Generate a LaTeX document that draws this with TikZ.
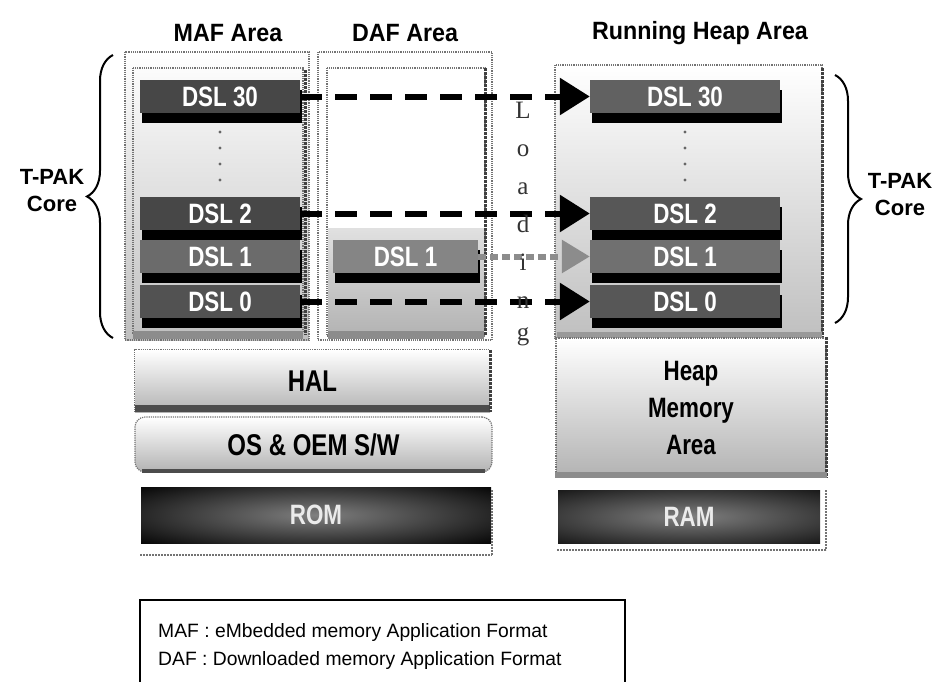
\documentclass[tikz,border=0pt]{standalone}
\usepackage{fontspec}
\setmainfont{Liberation Sans}
\newfontfamily\narf[FakeStretch=0.8]{Liberation Sans}
\newfontfamily\ttlf[FakeStretch=0.93]{Liberation Sans}
\newfontfamily\serf{Liberation Serif}
\usetikzlibrary{arrows.meta,shadows,decorations.pathreplacing,calc}
\begin{document}
\begin{tikzpicture}[x=1pt,y=-1pt,
  title/.style={font=\ttlf\bfseries\fontsize{25}{28}\selectfont, inner sep=0pt},
  dsl/.style={fill=#1, minimum width=160pt, minimum height=33pt, inner sep=0pt, text=white,
    font=\narf\bfseries\fontsize{28}{30}\selectfont,
    drop shadow={shadow xshift=2pt, shadow yshift=-10pt, fill=black, opacity=1}},
  dsl/.default=black!65,
  layer/.style={minimum height=#1, inner sep=0pt, top color=white, bottom color=black!30,
    font=\narf\bfseries\fontsize{30}{32}\selectfont},
  darkbox/.style={fill=black, inner sep=0pt, text=black!8,
    font=\narf\bfseries\fontsize{28}{30}\selectfont,
    path picture={\shade[inner color=black!50, outer color=black]
      (path picture bounding box.center) ellipse [x radius=250pt, y radius=44pt];}},
  tpak/.style={align=center, inner sep=0pt, font=\bfseries\fontsize{22}{27}\selectfont},
  loadch/.style={anchor=base, inner sep=0pt, text=black!80, font=\serf\fontsize{25}{25}\selectfont},
  loadarrow/.style={line width=6pt, dash pattern=on 22pt off 13pt, -{Triangle[length=30pt,width=36pt]}},
  grayarrow/.style={line width=6pt, black!45, dash pattern=on 8pt off 4pt, -{Triangle[length=28pt,width=32pt]}},
  areaedge/.style={black!55, densely dotted, line width=1.2pt},
  thickedge/.style={black!75, densely dotted, line width=3pt},
  brace/.style={line width=2pt, decorate, decoration={brace, amplitude=26pt}},
  legend/.style={anchor=west, inner sep=0pt, font=\fontsize{19.3}{22}\selectfont}
]
\useasboundingbox (0,0) rectangle (936,681);
\clip (0,0) rectangle (936,681);

% titles
\node[title] (tmaf) at (228,33) {MAF Area};
\node[title] (tdaf) at (405,33) {DAF Area};
\node[title] (trun) at (700,33) {Running Heap Area};

% MAF area
\shade[top color=white, bottom color=black!25] (125,52) rectangle (309,340);
\draw[areaedge] (125,52) rectangle (309,340);
\draw[areaedge] (133,68) rectangle (303,333);
\fill[black!45] (133,331) rectangle (303,339);
\draw[thickedge] (305,70) -- (305,335);
\foreach \yy in {132,148,164,180} \fill[black!60] (220,\yy) circle (1.6pt);

% DAF area
\draw[areaedge] (318,52) rectangle (492,340);
\draw[areaedge] (327,68) rectangle (485,336);
\shade[top color=black!12, bottom color=black!30] (328,228) rectangle (484,336);
\fill[black!45] (328,331) rectangle (484,339);
\draw[thickedge] (485,68) -- (485,336);

% Running heap area
\shade[top color=white, bottom color=black!25] (555,65) rectangle (822,338);
\draw[areaedge] (555,65) rectangle (822,338);
\draw[thickedge] (822,68) -- (822,338);
\fill[black!40] (557,332) rectangle (822,339);
\foreach \yy in {132,148,164,180} \fill[black!60] (685,\yy) circle (1.6pt);

% DSL boxes MAF
\node[dsl=black!72] (m30) at (220,96.5) {DSL 30};
\node[dsl=black!72] (m2) at (220,213.5) {DSL 2};
\node[dsl=black!58] (m1) at (220,256.5) {DSL 1};
\node[dsl=black!68] (m0) at (220,301.5) {DSL 0};
% DSL box DAF
\node[dsl=black!48, minimum width=145pt] (d1) at (405.5,256.5) {DSL 1};
% DSL boxes heap
\node[dsl=black!62, minimum width=190pt] (r30) at (685,96.5) {DSL 30};
\node[dsl=black!66, minimum width=190pt] (r2) at (685,213.5) {DSL 2};
\node[dsl=black!56, minimum width=190pt] (r1) at (685,256.5) {DSL 1};
\node[dsl=black!66, minimum width=190pt] (r0) at (685,301.5) {DSL 0};

% loading arrows
\draw[loadarrow] (m30.east) -- (r30.west);
\draw[loadarrow] (m2.east) -- (r2.west);
\draw[loadarrow] (m0.east) -- (r0.west);
\draw[grayarrow] (d1.east) -- (r1.west);

% Loading letters
\node[loadch] (lL) at (523,118) {L};
\node[loadch] (lo) at (523,156) {o};
\node[loadch] (la) at (523,194) {a};
\node[loadch] (ld) at (523,232) {d};
\node[loadch] (li) at (523,270) {i};
\node[loadch] (ln) at (523,308) {n};
\node[loadch] (lg) at (523,340) {g};

% braces and T-PAK Core
\draw[brace] (113,338) -- (113,55);
\draw[brace] (835,75) -- (835,323);
\node[tpak] (tpl) at (52,191) {T-PAK\\Core};
\node[tpak] (tpr) at (900,195) {T-PAK\\Core};

% lower layers
\node[layer=62pt, minimum width=355pt] (hal) at (312.5,381) {HAL};
\fill[black!70] (hal.south west) rectangle ([yshift=7pt]hal.south east);
\draw[areaedge] (hal.south west) -- (hal.north west) -- (hal.north east);
\draw[thickedge] (hal.north east) -- (hal.south east);

\node[layer=55pt, minimum width=357pt, rounded corners=10pt, draw=black!55, densely dotted, line width=1.2pt] (os) at (313.5,444.5) {OS \& OEM S/W};
\draw[black!70, line width=4pt] ([xshift=8pt,yshift=2pt]os.south west) -- ([xshift=-8pt,yshift=2pt]os.south east);

\node[darkbox, minimum width=350pt, minimum height=56pt] (rom) at (316,515) {ROM};
\draw[areaedge, line width=2pt] (140,555) -- (492,555);
\draw[areaedge, line width=2pt] (492,490) -- (492,555);

\node[layer=139pt, minimum width=270pt, align=center, draw=black!55, densely dotted, line width=1.2pt,
  font=\narf\bfseries\fontsize{28}{37}\selectfont] (heap) at (691,407.5) {Heap\\Memory\\Area};
\draw[thickedge] (heap.north east) -- (heap.south east);
\fill[black!45] ([yshift=6pt]heap.south west) rectangle (heap.south east);

\node[darkbox, minimum width=262pt, minimum height=53pt] (ram) at (689,516.5) {RAM};
\draw[areaedge, line width=2pt] (557,550) -- (826,550);
\draw[areaedge, line width=2pt] (826,490) -- (826,550);

% legend
\draw[line width=1.6pt] (140,700) -- (140,600) -- (625,600) -- (625,700);
\node[legend] (lg1) at (158,632) {MAF : eMbedded memory Application Format};
\node[legend] (lg2) at (158,660) {DAF : Downloaded memory Application Format};
\end{tikzpicture}
\end{document}
